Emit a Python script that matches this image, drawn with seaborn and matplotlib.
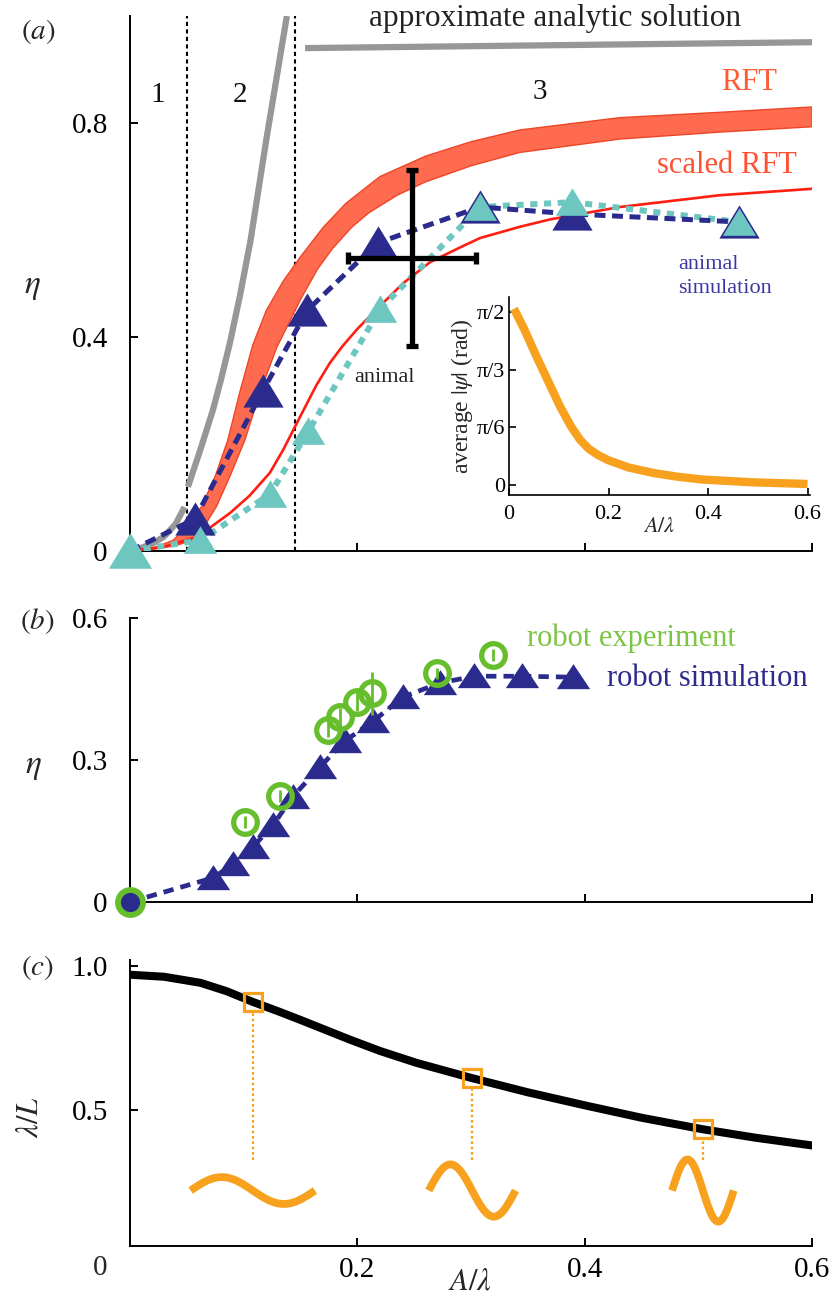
import numpy as np
import matplotlib
matplotlib.use("Agg")
import matplotlib.pyplot as plt
import matplotlib.transforms as mtransforms
import seaborn as sns

sns.set_theme(style="ticks")
plt.rcParams["font.family"] = ["Liberation Serif", "DejaVu Serif"]
plt.rcParams["mathtext.fontset"] = "stix"
plt.rcParams["axes.linewidth"] = 1.4

# ---------------- data ----------------
# (a) approximate analytic solution, one piece per regime
x_ana1 = [0.0, 0.01, 0.02, 0.03, 0.04, 0.048]
eta_ana1 = [0.0, 0.006, 0.014, 0.027, 0.05, 0.082]
x_ana2 = [0.051, 0.062, 0.073, 0.08, 0.088, 0.097, 0.106, 0.113, 0.12, 0.129, 0.138]
eta_ana2 = [0.12, 0.19, 0.264, 0.32, 0.39, 0.48, 0.58, 0.675, 0.77, 0.885, 1.0]
x_ana3 = [0.154, 0.6]
eta_ana3 = [0.94, 0.951]

# regime boundaries
regime_edges = [0.05, 0.145]

# RFT band (upper and lower edges)
x_rft_hi = [0, 0.02, 0.038, 0.05, 0.063, 0.075, 0.086, 0.097, 0.108, 0.12, 0.135,
            0.15, 0.17, 0.19, 0.22, 0.26, 0.3, 0.343, 0.431, 0.519, 0.6]
eta_rft_hi = [0, 0.005, 0.02, 0.045, 0.083, 0.14, 0.207, 0.30, 0.385, 0.45, 0.505,
              0.55, 0.605, 0.65, 0.70, 0.738, 0.765, 0.787, 0.81, 0.82, 0.83]
x_rft_lo = [0, 0.02, 0.04, 0.055, 0.065, 0.076, 0.088, 0.101, 0.115, 0.129, 0.15,
            0.165, 0.178, 0.195, 0.21, 0.235, 0.26, 0.3, 0.343, 0.431, 0.519, 0.6]
eta_rft_lo = [0, 0.003, 0.01, 0.02, 0.045, 0.083, 0.14, 0.207, 0.30, 0.38, 0.47,
              0.527, 0.565, 0.605, 0.632, 0.665, 0.69, 0.72, 0.745, 0.77, 0.783, 0.793]

# scaled RFT
x_srft = [0, 0.03, 0.059, 0.088, 0.105, 0.123, 0.135, 0.147, 0.164, 0.176, 0.187,
          0.2, 0.22, 0.24, 0.264, 0.29, 0.308, 0.343, 0.37, 0.431, 0.519, 0.6]
eta_srft = [0, 0.008, 0.026, 0.071, 0.103, 0.146, 0.19, 0.24, 0.31, 0.352, 0.383,
            0.415, 0.458, 0.50, 0.54, 0.567, 0.585, 0.606, 0.62, 0.643, 0.665, 0.677]

# animal simulation (navy) and second simulation set (cyan)
x_sim = [0, 0.057, 0.117, 0.156, 0.218, 0.308, 0.389, 0.536]
eta_sim = [0, 0.06, 0.30, 0.45, 0.576, 0.643, 0.63, 0.615]
x_sim2 = [0, 0.062, 0.123, 0.157, 0.22, 0.308, 0.389, 0.536]
eta_sim2 = [0, 0.02, 0.106, 0.224, 0.452, 0.643, 0.652, 0.615]

# animal measurement with error bars
x_animal = [0.248]
eta_animal = [0.548]
xerr_animal = [0.056]
yerr_animal = [0.164]

# inset: average |psi|
x_psi = [0.01, 0.03, 0.056, 0.08, 0.103, 0.125, 0.143, 0.16, 0.18, 0.2, 0.24, 0.29,
         0.34, 0.39, 0.49, 0.6]
psi = [1.6, 1.42, 1.16, 0.93, 0.71, 0.53, 0.41, 0.33, 0.27, 0.225, 0.16, 0.11,
       0.075, 0.05, 0.025, 0.01]

# (b) robot simulation and experiment
x_rsim = [0, 0.073, 0.091, 0.108, 0.126, 0.143, 0.167, 0.189, 0.214, 0.24, 0.273,
          0.303, 0.345, 0.39]
eta_rsim = [0, 0.051, 0.08, 0.116, 0.163, 0.222, 0.285, 0.34, 0.382, 0.433, 0.463,
            0.477, 0.477, 0.475]
x_rexp = [0, 0.101, 0.132, 0.174, 0.185, 0.2, 0.213, 0.27, 0.319]
eta_rexp = [0, 0.169, 0.224, 0.363, 0.391, 0.423, 0.441, 0.483, 0.522]
err_rexp = [0, 0.012, 0.012, 0.015, 0.018, 0.02, 0.045, 0.012, 0.012]

# (c) wavelength vs amplitude
x_wl = [0, 0.03, 0.062, 0.085, 0.108, 0.13, 0.15, 0.172, 0.193, 0.22, 0.252, 0.301,
        0.35, 0.40, 0.45, 0.504, 0.55, 0.6]
wl = [0.969, 0.962, 0.941, 0.912, 0.875, 0.843, 0.8125, 0.778, 0.745, 0.705, 0.664,
      0.611, 0.562, 0.517, 0.474, 0.434, 0.405, 0.378]
x_shape = [0.108, 0.301, 0.504]
wl_shape = [0.875, 0.611, 0.434]

# ---------------- styles ----------------
NAVY = "#2B2B8E"
CYAN = "#6DC6C0"
GRAY = "#979797"
RFT_FILL = "#FF6B4F"
RFT_EDGE = "#EE4526"
RED = "#FF1E12"
GREEN = "#66BE2C"
ORANGE = "#F7A11E"
TXT = 21
SMALL = 16

W, H = 840, 1304
fig = plt.figure(figsize=(W / 100, H / 100), dpi=100)


def rect(left, top, right, bottom):
    return [left / W, 1 - bottom / H, (right - left) / W, (bottom - top) / H]


ax_a = fig.add_axes(rect(130, 16, 812, 551))
ax_b = fig.add_axes(rect(130, 618, 812, 902))
ax_c = fig.add_axes(rect(130, 960, 812, 1246))
ax_in = fig.add_axes(rect(509, 297, 810, 495))

for ax in (ax_a, ax_b, ax_c):
    sns.despine(ax=ax)
    ax.set_xlim(0, 0.6)
    ax.set_xticks([0.2, 0.4, 0.6])
    ax.tick_params(direction="in", length=6, width=1.4, labelsize=TXT, pad=16,
                   colors="black")
    ax.tick_params(axis="x", labelbottom=False)
    for sp in ax.spines.values():
        sp.set_color("black")
    ax.set_facecolor("white")

# ---------------- panel (a) ----------------
ax = ax_a
ax.set_ylim(0, 1.0)
ax.set_yticks([0, 0.4, 0.8])
ax.set_yticklabels(["0", "0.4", "0.8"])

for xs, ys in ((x_ana1, eta_ana1), (x_ana2, eta_ana2), (x_ana3, eta_ana3)):
    sns.lineplot(x=xs, y=ys, ax=ax, color=GRAY, lw=4.5, sort=False,
                 estimator=None, solid_capstyle="butt", zorder=2)

for xe in regime_edges:
    ax.axvline(xe, color="black", lw=1.5, ls=(0, (2, 1.6)), zorder=1)

band_x = list(x_rft_hi) + list(x_rft_lo[::-1])
band_y = list(eta_rft_hi) + list(eta_rft_lo[::-1])
ax.fill(band_x, band_y, facecolor=RFT_FILL, edgecolor=RFT_EDGE, lw=1.0, zorder=3)

sns.lineplot(x=x_srft, y=eta_srft, ax=ax, color=RED, lw=1.9, sort=False,
             estimator=None, zorder=4)

l2, = ax.plot(x_sim2, eta_sim2, color=CYAN, lw=4.3, zorder=5,
              solid_capstyle="butt")
l2.set_dashes((1.2, 1.1))
l2.set_dash_capstyle("butt")
l1, = ax.plot(x_sim, eta_sim, color=NAVY, lw=3.6, zorder=6)
l1.set_dashes((2.2, 1.3))
l1.set_dash_capstyle("butt")

tri = [(-1, -0.8), (1, -0.8), (0, 0.85)]
ax.plot(x_sim, eta_sim, ls="none", marker=tri, ms=29, color=NAVY, mec=NAVY,
        mew=0, zorder=7, clip_on=False)
ax.plot(x_sim2[1:], eta_sim2[1:], ls="none", marker=tri, ms=24, color=CYAN,
        mec=CYAN, mew=0, zorder=8, clip_on=False)
# the start point sits on the origin and is drawn larger
ax.plot(x_sim2[:1], eta_sim2[:1], ls="none", marker=tri, ms=31, color=CYAN,
        mec=CYAN, mew=0, zorder=8, clip_on=False)

ax.errorbar(x_animal, eta_animal, xerr=xerr_animal, yerr=yerr_animal, fmt="none",
            ecolor="black", elinewidth=3.8, capsize=4.5, capthick=3.8, zorder=9)

ax.text(0.374, 0.996, "approximate analytic solution", fontsize=TXT + 1.5,
        color="#222222", ha="center", va="center", clip_on=False)
ax.text(0.545, 0.875, "RFT", fontsize=TXT + 1, color="#FF5A32", ha="center",
        va="center")
ax.text(0.525, 0.72, "scaled RFT", fontsize=TXT + 1, color="#FF5030",
        ha="center", va="center")
ax.text(0.482, 0.513, "animal\nsimulation", fontsize=SMALL, color="#3B36A0",
        ha="left", va="center", linespacing=1.35)
ax.text(0.224, 0.325, "animal", fontsize=SMALL, color="#222222", ha="center",
        va="center")
for lab, xt, yt in (("1", 0.0246, 0.852), ("2", 0.0967, 0.852), ("3", 0.3606, 0.858)):
    ax.text(xt, yt, lab, fontsize=TXT, color="#111111", ha="center", va="center")

# inset
ax = ax_in
sns.despine(ax=ax)
sns.lineplot(x=x_psi, y=psi, ax=ax, color=ORANGE, lw=6, sort=False,
             estimator=None, solid_capstyle="butt")
ax.set_xlim(0, 0.605)
ax.set_ylim(-0.09, 1.707)
ax.set_xticks([0, 0.2, 0.4, 0.6])
ax.set_xticklabels(["0", "0.2", "0.4", "0.6"])
ax.set_yticks([0, np.pi / 6, np.pi / 3, np.pi / 2])
ax.set_yticklabels(["0", "π/6", "π/3", "π/2"])
ax.tick_params(direction="in", length=5, width=1.2, labelsize=SMALL, colors="black")
ax.tick_params(axis="y", pad=3)
ax.tick_params(axis="x", pad=7)
for sp in ax.spines.values():
    sp.set_color("black")
    sp.set_linewidth(1.2)
ax.set_xlabel(r"$A/\lambda$", fontsize=SMALL, labelpad=-4)
ax.set_ylabel(r"average $|\psi|$ (rad)", fontsize=SMALL + 1, labelpad=1)
ax.set_facecolor("none")

# ---------------- panel (b) ----------------
ax = ax_b
ax.set_ylim(0, 0.6)
ax.set_yticks([0, 0.3, 0.6])
ax.set_yticklabels(["0", "0.3", "0.6"])

lb, = ax.plot(x_rsim, eta_rsim, color=NAVY, lw=3.4, zorder=3)
lb.set_dashes((2.2, 1.5))
lb.set_dash_capstyle("butt")
tri_b = [(-1, -0.7), (1, -0.7), (0, 0.8)]
ax.plot(x_rsim[1:], eta_rsim[1:], ls="none", marker=tri_b, ms=24, color=NAVY,
        mew=0, zorder=4)
ax.errorbar(x_rexp, eta_rexp, yerr=err_rexp, fmt="none", ecolor=GREEN,
            elinewidth=2.0, capsize=0, zorder=5)
ax.plot(x_rexp[1:], eta_rexp[1:], ls="none", marker="o", ms=17, mfc="none",
        mec=GREEN, mew=3.8, zorder=6)
# start point: filled robot-simulation dot inside the experiment ring
ax.plot(x_rexp[:1], eta_rexp[:1], ls="none", marker="o", ms=18, mfc=NAVY,
        mec=GREEN, mew=4.2, zorder=7, clip_on=False)
ax.text(0.4415, 0.558, "robot experiment", fontsize=TXT + 1, color="#7CC443",
        ha="center", va="center")
ax.text(0.5075, 0.473, "robot simulation", fontsize=TXT + 1, color="#2E2A8C",
        ha="center", va="center")

# ---------------- panel (c) ----------------
ax = ax_c
ax.set_ylim(0.03, 1.02)
ax.set_yticks([0.5, 1.0])
ax.set_yticklabels(["0.5", "1.0"])
ax.set_xticks([0, 0.2, 0.4, 0.6])
ax.set_xticklabels(["", "0.2", "0.4", "0.6"])
ax.tick_params(axis="x", labelbottom=True, pad=8)
ax.annotate("0", xy=(0, 0.03), xytext=(-30, -22), textcoords="offset pixels",
            fontsize=TXT, ha="center", va="center", annotation_clip=False)

sns.lineplot(x=x_wl, y=wl, ax=ax, color="black", lw=5.8, sort=False,
             estimator=None, zorder=3)
ax.vlines(x_shape, 0.326, [v - 0.036 for v in wl_shape], colors=ORANGE, lw=1.6,
          linestyles=(0, (1.2, 1.2)), zorder=2)
ax.plot(x_shape, wl_shape, ls="none", marker="s", ms=13, mfc="none", mec=ORANGE,
        mew=2.3, zorder=4)

# body shapes: one wavelength of a body of fixed length at each amplitude
body_len_in = 1.42
wave_y = 0.222
s = np.linspace(0, 1, 120)
for xa, va in zip(x_shape, wl_shape):
    lam_in = va * body_len_in
    amp_in = xa * lam_in
    tr = fig.dpi_scale_trans + mtransforms.ScaledTranslation(xa, wave_y, ax.transData)
    ax.plot((s - 0.5) * lam_in, amp_in * np.sin(2 * np.pi * s), transform=tr,
            color=ORANGE, lw=5.6, solid_capstyle="butt", clip_on=False)

# ---------------- labels ----------------
fig.text(38 / W, 1 - 32 / H, r"$(a)$", fontsize=TXT, ha="center", va="center")
fig.text(37 / W, 1 - 621 / H, r"$(b)$", fontsize=TXT, ha="center", va="center")
fig.text(37 / W, 1 - 968 / H, r"$(c)$", fontsize=TXT, ha="center", va="center")
fig.text(32 / W, 1 - 287 / H, r"$\eta$", fontsize=TXT + 3, ha="center", va="center")
fig.text(33 / W, 1 - 767 / H, r"$\eta$", fontsize=TXT + 3, ha="center", va="center")
fig.text(30 / W, 1 - 1117 / H, r"$\lambda/L$", fontsize=TXT + 1, ha="center",
         va="center", rotation=90)
fig.text(470 / W, 1 - 1282 / H, r"$A/\lambda$", fontsize=TXT + 1, ha="center",
         va="center")

fig.savefig("out.png", dpi=100, facecolor="white")
